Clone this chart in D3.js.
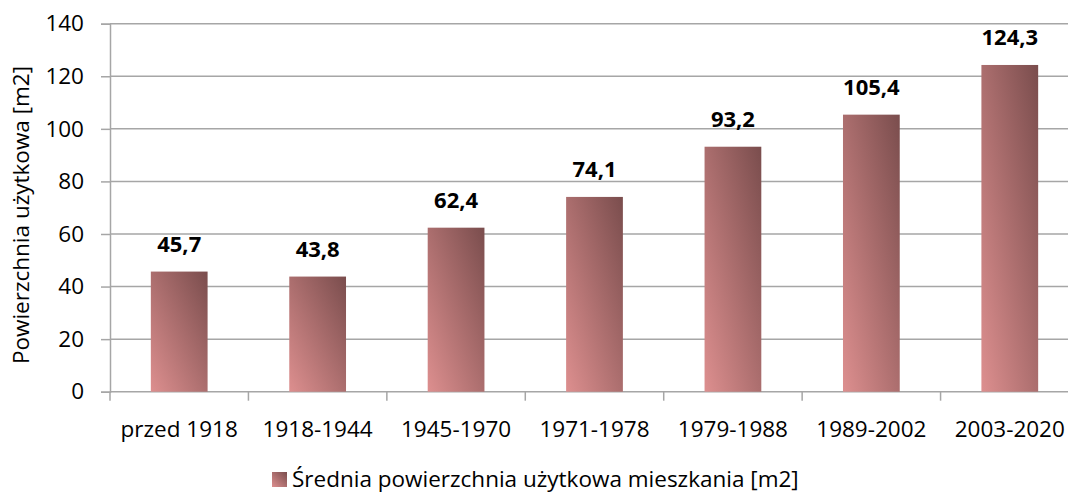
<!DOCTYPE html>
<html>
<head>
<meta charset="utf-8">
<script src="https://cdn.jsdelivr.net/npm/d3@7"></script>
<style>
  body { margin: 0; background: #fff; }
  svg { font-family: "Open Sans", "Noto Sans", sans-serif; }
</style>
</head>
<body>
<svg width="1068" height="495"></svg>
<script>
// chart data
const categories = ["przed 1918", "1918-1944", "1945-1970", "1971-1978", "1979-1988", "1989-2002", "2003-2020"];
const values = [45.7, 43.8, 62.4, 74.1, 93.2, 105.4, 124.3];
const yTicks = [0, 20, 40, 60, 80, 100, 120, 140];
const seriesName = "Średnia powierzchnia użytkowa mieszkania [m2]";
const yTitle = "Powierzchnia użytkowa [m2]";

const svg = d3.select('svg');
const plotLeft = 110, plotRight = 1079, plotTop = 23.7, plotBottom = 391.7;
const fontSize = 22.5;

const x = d3.scaleBand().domain(categories).range([plotLeft, plotRight]).paddingInner(0.59).paddingOuter(0.295);
const y = d3.scaleLinear().domain([0, 140]).range([plotBottom, plotTop]);

const defs = svg.append('defs');
const grad = defs.append('linearGradient').attr('id', 'barGrad')
    .attr('x1', 0).attr('y1', 1).attr('x2', 1).attr('y2', 0);
grad.append('stop').attr('offset', '0%').attr('stop-color', '#dd8f8f');
grad.append('stop').attr('offset', '100%').attr('stop-color', '#7a4d4d');

// gridlines
svg.append('g').selectAll('line').data(yTicks.filter(d => d > 0)).enter().append('line')
    .attr('x1', plotLeft).attr('x2', plotRight)
    .attr('y1', d => y(d)).attr('y2', d => y(d))
    .attr('stroke', '#a6a6a6').attr('stroke-width', 1.5);

// y axis
const yAxis = svg.append('g').attr('transform', `translate(${plotLeft},0)`)
    .call(d3.axisLeft(y).tickValues(yTicks).tickSize(9).tickPadding(17).tickFormat(d3.format('d')));
yAxis.select('.domain').attr('stroke', '#a6a6a6').attr('stroke-width', 1.5);
yAxis.selectAll('.tick line').attr('stroke', '#a6a6a6').attr('stroke-width', 1.5);
yAxis.selectAll('.tick text').attr('font-size', fontSize).attr('fill', '#000')
    .attr('font-family', '"Open Sans", "Noto Sans", sans-serif');

// x axis with ticks between categories
const step = x.step();
svg.append('line').attr('x1', plotLeft).attr('x2', plotRight).attr('y1', plotBottom).attr('y2', plotBottom)
    .attr('stroke', '#a6a6a6').attr('stroke-width', 1.5);
svg.append('g').selectAll('line').data(d3.range(categories.length + 1)).enter().append('line')
    .attr('x1', i => plotLeft + i * step).attr('x2', i => plotLeft + i * step)
    .attr('y1', plotBottom).attr('y2', plotBottom + 9)
    .attr('stroke', '#a6a6a6').attr('stroke-width', 1.5);
svg.append('g').selectAll('text').data(categories).enter().append('text')
    .attr('x', d => x(d) + x.bandwidth() / 2)
    .attr('y', plotBottom + 45)
    .attr('text-anchor', 'middle')
    .attr('font-size', fontSize)
    .text(d => d);

// bars
svg.append('g').selectAll('rect').data(values).enter().append('rect')
    .attr('x', (d, i) => x(categories[i]))
    .attr('width', x.bandwidth())
    .attr('y', d => y(d))
    .attr('height', d => plotBottom - y(d))
    .attr('fill', 'url(#barGrad)');

// value labels
svg.append('g').selectAll('text').data(values).enter().append('text')
    .attr('x', (d, i) => x(categories[i]) + x.bandwidth() / 2)
    .attr('y', d => y(d) - 20)
    .attr('text-anchor', 'middle')
    .attr('font-size', 22)
    .attr('font-weight', 'bold')
    .text(d => d3.format('.1f')(d).replace('.', ','));

// y title
svg.append('text')
    .attr('transform', `translate(29,215) rotate(-90)`)
    .attr('text-anchor', 'middle')
    .attr('font-size', fontSize)
    .text(yTitle);

// legend
const lg = svg.append('g').attr('transform', 'translate(272,472)');
lg.append('rect').attr('width', 15).attr('height', 15).attr('fill', 'url(#barGrad)');
lg.append('text').attr('x', 20).attr('y', 15).attr('font-size', fontSize).text(seriesName);
</script>
</body>
</html>
